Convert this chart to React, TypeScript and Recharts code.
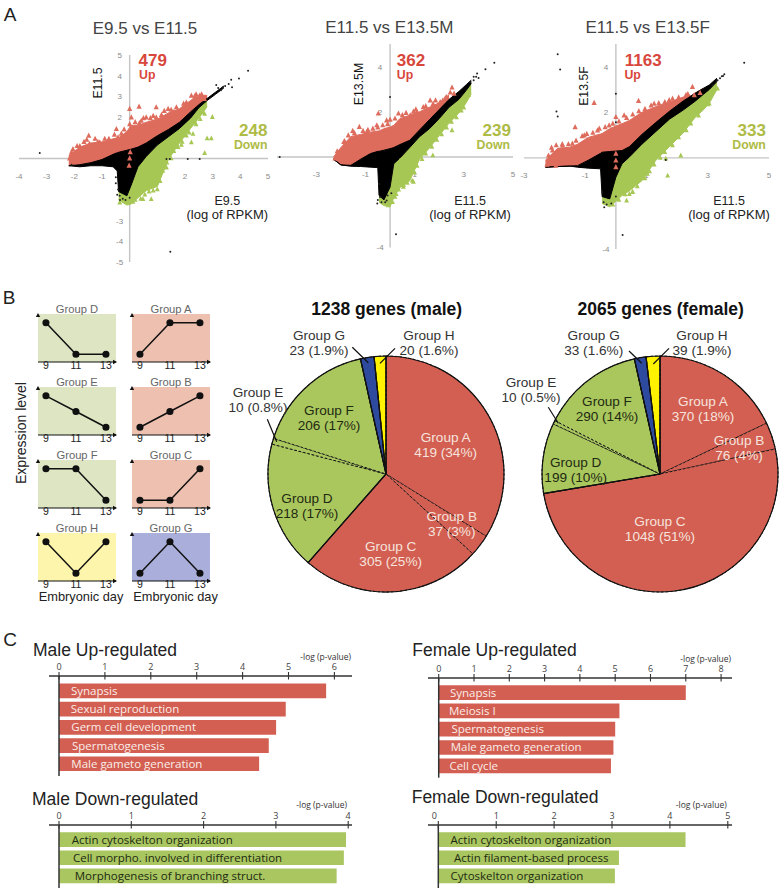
import {
  Area,
  Bar,
  BarChart,
  ComposedChart,
  LabelList,
  Line,
  LineChart,
  Pie,
  PieChart,
  Cell,
  ReferenceArea,
  ReferenceDot,
  ReferenceLine,
  Scatter,
  XAxis,
  YAxis
} from "recharts";

const SANS = '"Liberation Sans", Arial, sans-serif';
const OPEN = '"Open Sans", sans-serif';

// Panel A: envelope of the dense cloud, plus the loose points around it
const e95X = [-2.2, -1.8, -1.4, -1, -0.6, -0.45, -0.4, -0.1, 0.05, 0.3, 0.6, 1, 1.4, 1.8, 2.2, 2.5, 2.8, 3.1, 3.4];
const e95RedTop = [0.15, 0.55, 0.75, 0.8, 0.95, 1, 1, 1.3, 1.6, 1.6, 1.75, 1.9, 2.2, 2.4, 2.8, 3.05, 3.05, null, null];
const e95BlackTop = [-0.35, -0.3, -0.2, -0.05, 0.2, 0.28, 0.3, 0.4, 0.45, 0.55, 0.75, 1.1, 1.4, 1.75, 2.25, 2.6, 2.9, 3.2, 3.5];
const e95BlackLow = [null, -0.4, -0.35, -0.35, -0.4, -0.6, -1.6, -1.8, -1.3, -0.4, 0.1, 0.65, 1.05, 1.45, 1.95, 2.45, 2.8, 3.1, 3.4];
const e95GreenLow = [null, null, null, null, null, null, -2, -2.25, -2.2, -1.9, -1.55, -1.35, -0.05, 0.75, 1.45, 1.95, 2.5, null, null];
const e95BlackPts = [[-3.25, 0.26], [4.28, 4.24], [3.95, 3.87], [3.67, 3.8], [3.58, 3.6], [3.37, 3.44], [3.13, 3.55], [3.7, 3.44], [1.47, -4.5], [1.33, -0.03], [1.45, -0.03], [2.1, -0.03], [2.53, -0.03], [-0.36, -1.8], [-0.42, -1.5], [-2.1, -0.3], [-0.5, -1.2], [-0.45, -1.75], [-0.35, -2], [-0.25, -1.95], [-0.15, -2], [0, -1.9], [-0.5, -0.9], [3.3, 3.3], [3.45, 3.5], [3.2, 3.4]];
const e95RedPts = [[0, 2.39], [0.34, 2.5], [-1.48, 1.1], [-0.48, 1.42], [0.42, 1.82], [0.96, 1.98], [1.39, 2.39], [0.96, 2.47], [-1.8, 0.6], [-2.1, 0.3], [-2.17, 0], [-1.08, 0.77], [0, 1.66], [0.06, 1.98], [0.6, 1.98], [1.69, 2.47], [2.23, 3.03], [2.53, 3.03], [2.7, 2.87], [2.05, 2.7], [-1.8, 0.45], [-1.45, 0.7], [-0.84, 0.7], [-0.42, 1.02], [1.08, 1.74], [1.87, 2.2], [0, 0], [-0.02, -0.35], [0.02, 0.3], [-2.05, 0.45], [-1.9, 0.6], [-1.65, 0.8], [-1.55, 0.9], [-1.25, 0.95], [-1.15, 0.8], [-0.9, 0.95], [-0.75, 0.95], [-0.55, 1.15], [-0.3, 1.2], [-0.2, 1.4], [0.2, 1.75], [0.35, 1.7], [0.5, 1.95], [0.75, 1.95], [0.85, 2.05], [1.15, 2.1], [1.25, 2.3], [1.5, 2.35], [1.6, 2.25], [1.95, 2.65], [2.35, 3], [2.6, 3.1], [2.4, 3.1]];
const e95GreenPts = [[2.71, 2.15], [2.99, 2], [2.8, 0.97], [2.95, 0.97], [2.71, 0.26], [2.29, 1.18], [2.23, 0.77], [1.87, 0.65], [0.78, -1.97], [0.48, -1.97], [0.12, -2.1], [-0.36, -2.13], [-0.24, -1.89], [1.2, -0.35], [1.33, -0.44], [1.45, 0.45], [2.05, 1.58], [2.35, 1.74], [2.65, 2.23], [1.08, -1.08], [0.2, -2], [0.4, -1.95], [0.55, -1.75], [0.7, -1.6], [0.85, -1.55], [1, -1.5], [1.1, -1.1], [1.2, -0.6], [1.35, -0.2], [1.5, 0], [1.6, 0.35], [1.75, 0.55], [1.9, 0.8], [2.05, 1.1], [2.15, 1.25], [2.4, 1.65], [2.55, 1.9]];

const e13mX = [-2.3, -2, -1.6, -1.2, -0.8, -0.5, -0.45, -0.25, 0, 0.15, 0.4, 0.8, 1.2, 1.6, 2, 2.4, 2.8, 3.1, 3.3];
const e13mRedTop = [0, 0.42, 0.9, 1, 1.1, 1.15, 1.15, 1.25, 1.33, 1.4, 1.7, 1.85, 2, 2.2, 2.4, 2.75, null, null, null];
const e13mBlackTop = [-0.1, -0.35, -0.37, -0.1, 0.15, 0.25, 0.25, 0.3, 0.37, 0.42, 0.55, 0.74, 1.2, 1.65, 2.1, 2.55, 2.9, 3.2, 3.4];
const e13mBlackLow = [null, null, -0.41, -0.42, -0.45, -0.47, -1.7, -1.9, -1.33, -0.3, -0.05, 0.42, 0.9, 1.25, 1.7, 2.2, 2.55, 2.95, 3.25];
const e13mGreenLow = [null, null, null, null, null, null, -2, -2.15, -2.2, -1.8, -1.35, -1.05, -0.1, 0.4, 0.95, 1.5, 1.95, 2.4, 2.8];
const e13mBlackPts = [[4.24, 4.17], [3.88, 3.88], [3.54, 3.69], [3.4, 3.4], [-4.49, 0], [0, 2.65], [0.24, -3.42], [-0.52, -2.06], [-0.41, -1.77], [3.27, 3.32], [3.6, 3.5], [-0.14, -1.92], [-0.45, -1.2], [-0.5, -1.9], [-0.35, -2], [-0.2, -2], [-0.1, -1.7], [0.05, -1.6], [3.4, 3.55], [3.5, 3.55]];
const e13mRedPts = [[-0.48, 1.92], [-1.25, 1.33], [-1.52, 1.15], [-1.88, 0.66], [-2.24, -0.07], [-1.97, -0.15], [-2.04, 0], [-0.14, 1.62], [0.34, 1.92], [1.5, 1.92], [1.63, 2.5], [2.04, 2.43], [2.52, 3.07], [2.3, 2.65], [-0.54, 1.4], [0.82, 1.84], [-1.84, -0.07], [-0.95, 1.1], [1.09, 1.99], [0, 1.65], [-2.15, 0.25], [-1.85, 0.7], [-1.7, 0.95], [-1.45, 1.05], [-1.1, 1.15], [-0.9, 1.2], [-0.7, 1.25], [-0.5, 1.3], [-0.3, 1.4], [-0.1, 1.45], [0.2, 1.7], [0.5, 1.85], [0.65, 1.95], [0.95, 2], [1.05, 2.1], [1.35, 2.2], [1.45, 2.25], [1.75, 2.35], [1.85, 2.5], [2.15, 2.5], [2.25, 2.6], [2.45, 2.85], [2.6, 2.8]];
const e13mGreenPts = [[3.2, 2.73], [3, 2.18], [2.52, 1.18], [1.74, 0.07], [0.95, -1.1], [0.54, -1.33], [-0.07, -2.14], [0.41, -0.15], [1.63, 0.74], [2.31, 1.77], [1.84, 1.03], [0.2, -1.77], [0.1, -2], [0.25, -1.65], [0.35, -1.45], [0.55, -1.25], [0.7, -1.15], [0.9, -1.05], [1, -0.7], [1.1, -0.4], [1.3, -0.1], [1.45, 0.15], [1.7, 0.45], [1.9, 0.75], [2.1, 1], [2.3, 1.3], [2.5, 1.55], [2.7, 1.75], [2.9, 2.05]];

const e13fX = [-2.3, -1.9, -1.5, -1.25, -0.9, -0.5, -0.45, -0.2, 0, 0.2, 0.45, 0.85, 1.3, 1.75, 2.2, 2.6, 2.85, 3.05, 3.3];
const e13fRedTop = [-0.1, 0.42, 0.47, 0.6, 0.9, 1.05, 1.07, 1.28, 1.4, 1.5, 1.65, 2, 2.25, 2.45, 2.67, 2.75, 2.8, null, null];
const e13fBlackTop = [-0.41, -0.38, -0.36, -0.34, -0.1, 0.2, 0.25, 0.28, 0.3, 0.32, 0.5, 1.03, 1.55, 2.05, 2.5, 2.85, 3.05, 3.2, 3.5];
const e13fBlackLow = [null, null, null, -0.41, -0.45, -0.48, -1.7, -1.8, -0.85, -0.26, 0.05, 0.6, 1.15, 1.7, 2.1, 2.5, 2.78, 3, 3.35];
const e13fGreenLow = [null, null, null, null, null, null, -2, -2.15, -1.9, -1.65, -1.44, -1, -0.12, 0.5, 1.1, 1.8, 2.1, 2.4, 3];
const e13fBlackPts = [[-1.9, 4.55], [-1.82, 3.88], [-1.94, 2.04], [-1.9, 1.82], [4.19, 4.18], [3.46, 3.58], [3.54, 3.67], [0, 2.82], [0.22, -3.38], [0, 1.57], [-0.38, -2.17], [1.63, -0.09], [3.16, 3.19], [3.32, 3.41], [-0.45, -1.5], [-0.4, -1.95], [-0.3, -2.05], [-0.15, -2], [0, -1.7], [3.4, 3.5], [3.5, 3.6]];
const e13fRedPts = [[-0.71, 2.41], [0.74, 2.5], [2.5, 3.11], [-1.33, 1.35], [-0.54, 1.28], [-0.22, 1.42], [0.27, 1.86], [1.25, 2.38], [1.74, 2.53], [-2.07, 0.32], [-2.23, -0.26], [-1.74, 0.54], [-1.42, 0.62], [-1.03, 0.98], [0, 1.79], [0, -0.12], [0, -0.41], [0.98, 1.94], [2.29, 2.75], [2.56, 2.75], [-1.96, -0.34], [0, 0.18], [-2.2, 0.1], [-2.1, 0.45], [-1.95, 0.55], [-1.75, 0.6], [-1.55, 0.6], [-1.3, 0.75], [-1.1, 0.95], [-0.95, 1.05], [-0.75, 1.1], [-0.6, 1.2], [-0.35, 1.35], [-0.1, 1.5], [0.1, 1.6], [0.35, 1.75], [0.55, 1.9], [0.75, 2.05], [0.95, 2.15], [1.15, 2.3], [1.4, 2.4], [1.6, 2.45], [1.85, 2.6], [2.05, 2.65], [2.35, 2.8], [2.75, 2.85], [-2.25, -0.3], [-2.05, -0.1], [-1.85, 0.1]];
const e13fGreenPts = [[2.12, 0.1], [1.63, -0.04], [1.69, -0.78], [1.03, -0.7], [0.35, -1.88], [0.54, -1.51], [0, -1.81], [3.32, 3.04], [3.05, 2.38], [2.72, 2.23], [2.29, 1.64], [1.85, 1.06], [0.87, -0.56], [0.44, -1.59], [2.5, 1.94], [-0.1, -2.05], [0.1, -1.85], [0.3, -1.6], [0.55, -1.5], [0.7, -1.25], [0.95, -0.9], [1.1, -0.6], [1.25, -0.3], [1.45, 0], [1.6, 0.25], [1.85, 0.55], [2.05, 0.9], [2.3, 1.2], [2.45, 1.5], [2.7, 1.85], [3, 2.35]];

// Panel B: expression profiles
const days = [9, 11, 13];
const groupD = [1, 0, 0];
const groupE = [1, 0.5, 0];
const groupF = [1, 1, 0];
const groupH = [1, 0, 1];
const groupA = [0, 1, 1];
const groupB = [0, 0.5, 1];
const groupC = [0, 0, 1];
const groupG = [0, 1, 0];

// Panel B: pies, clockwise from the top
const groupNames = ["A", "B", "C", "D", "E", "F", "G", "H"];
const maleCounts = [419, 37, 305, 218, 10, 206, 23, 20];
const femaleCounts = [370, 76, 1048, 199, 10, 290, 33, 39];
const sliceColors = ["#d25f52", "#d25f52", "#d25f52", "#aac75e", "#aac75e", "#aac75e", "#2d4a9e", "#fff200"];

// Panel C
const maleUpTerms = ["Synapsis", "Sexual reproduction", "Germ cell development", "Spermatogenesis", "Male gameto generation"];
const maleUpValues = [5.82, 4.94, 4.73, 4.57, 4.36];
const maleDownTerms = ["Actin cytoskelton organization", "Cell morpho. involved in differentiation", "Morphogenesis of branching struct."];
const maleDownValues = [3.97, 3.94, 3.84];
const femaleUpTerms = ["Synapsis", "Meiosis I", "Spermatogenesis", "Male gameto generation", "Cell cycle"];
const femaleUpValues = [7, 5.12, 5, 4.95, 4.88];
const femaleDownTerms = ["Actin cytoskelton organization", "Actin filament-based process", "Cytoskelton organization"];
const femaleDownValues = [4.27, 3.12, 3.05];

function T({ x, y, size, color = "#333", bold, rot, left, font = SANS, children }: any) {
  return (
    <div
      style={{
        position: "absolute",
        left: x,
        top: y,
        transform: `translate(${left ? "0" : "-50%"}, -50%)${rot ? ` rotate(${rot}deg)` : ""}`,
        fontFamily: font,
        fontSize: size,
        fontWeight: bold ? 700 : 400,
        color,
        whiteSpace: "nowrap",
        lineHeight: 1
      }}
    >
      {children}
    </div>
  );
}

const pts = (list: number[][]) => list.map(([x, y]) => ({ x, y }));

const RedMark = (p: any) => <path d={`M${p.cx},${p.cy - 3.2}L${p.cx + 2.6},${p.cy + 2}L${p.cx - 2.6},${p.cy + 2}Z`} fill="#de6c5d" />;
const GreenMark = (p: any) => <path d={`M${p.cx},${p.cy - 3}L${p.cx + 2.4},${p.cy + 1.8}L${p.cx - 2.4},${p.cy + 1.8}Z`} fill="#a7c755" />;
const BlackMark = (p: any) => <circle cx={p.cx} cy={p.cy} r={1} fill="#222" />;

function CloudPanel({ left, top, width, height, xDomain, yDomain, xs, redTop, blackTop, blackLow, greenLow, blackPts, redPts, greenPts, xTicks, yTicks }: any) {
  const pad = 16;
  const rows = xs.map((x: number, i: number) => ({
    x,
    red: redTop[i] === null ? null : [blackTop[i], redTop[i]],
    black: [blackLow[i] ?? blackTop[i], blackTop[i]],
    green: greenLow[i] === null ? null : [greenLow[i], blackLow[i]]
  }));
  const box = { width: width + pad * 2, height: height + pad * 2 };
  const margin = { top: pad, right: pad, bottom: pad, left: pad };
  return (
    <div style={{ position: "absolute", left: left - pad, top: top - pad }}>
      {/* axes sit in their own chart underneath so the cloud covers them */}
      <div style={{ position: "absolute", left: 0, top: 0 }}>
        <ComposedChart {...box} data={rows} margin={margin} style={{ overflow: "visible" }}>
          <XAxis type="number" dataKey="x" domain={xDomain} hide allowDataOverflow />
          <YAxis type="number" domain={yDomain} hide allowDataOverflow />
          <ReferenceLine x={0} stroke="#c4c4c4" strokeWidth={1.4} />
          <ReferenceLine y={0} stroke="#c4c4c4" strokeWidth={1.4} />
          {xTicks.map((t: number) => (
            <ReferenceDot
              key={`x${t}`}
              x={t}
              y={0}
              ifOverflow="visible"
              shape={(p: any) => (
                <text x={p.cx} y={p.cy + 20} textAnchor="middle" fontSize={8} fontFamily={SANS} fill="#8a8a8a">
                  {t}
                </text>
              )}
            />
          ))}
          {yTicks.map((t: number) => (
            <ReferenceDot
              key={`y${t}`}
              x={0}
              y={t}
              ifOverflow="visible"
              shape={(p: any) => (
                <text x={p.cx - 10} y={p.cy + 3} textAnchor="middle" fontSize={8} fontFamily={SANS} fill="#8a8a8a">
                  {t}
                </text>
              )}
            />
          ))}
        </ComposedChart>
      </div>
      <div style={{ position: "absolute", left: 0, top: 0 }}>
        <ComposedChart {...box} data={rows} margin={margin} style={{ overflow: "visible" }}>
          <XAxis type="number" dataKey="x" domain={xDomain} hide allowDataOverflow />
          <YAxis type="number" dataKey="y" domain={yDomain} hide allowDataOverflow />
          <Area dataKey="green" type="linear" stroke="#a7c755" strokeWidth={1} fill="#a7c755" fillOpacity={1} dot={false} activeDot={false} isAnimationActive={false} />
          <Scatter data={pts(greenPts)} shape={GreenMark} isAnimationActive={false} />
          <Area dataKey="red" type="linear" stroke="#de6c5d" strokeWidth={1} fill="#de6c5d" fillOpacity={1} dot={false} activeDot={false} isAnimationActive={false} />
          <Area dataKey="black" type="linear" stroke="#000" strokeWidth={1} fill="#000" fillOpacity={1} dot={false} activeDot={false} isAnimationActive={false} />
          <Scatter data={pts(redPts)} shape={RedMark} isAnimationActive={false} />
          <Scatter data={pts(blackPts)} shape={BlackMark} isAnimationActive={false} />
        </ComposedChart>
      </div>
    </div>
  );
}

function Profile({ left, top, name, levels, bg }: any) {
  const rows = days.map((day, i) => ({ day, level: levels[i] }));
  const xDom = [8.47, 13.67];
  const yDom = [-0.246, 1.28];
  return (
    <div style={{ position: "absolute", left: left - 4, top: top - 6 }}>
      <LineChart width={92} height={68} data={rows} margin={{ top: 6, right: 10, bottom: 0, left: 4 }} style={{ overflow: "visible" }}>
        <XAxis
          type="number"
          dataKey="day"
          domain={xDom}
          ticks={days}
          height={14}
          tickLine={false}
          tickSize={0}
          tickMargin={0}
          interval={0}
          axisLine={{ stroke: "#111", strokeWidth: 1.2 }}
          tick={{ fontSize: 10.5, fontFamily: SANS, fill: "#222" }}
        />
        <YAxis type="number" domain={yDom} width={0} tick={false} tickLine={false} axisLine={{ stroke: "#111", strokeWidth: 1.2 }} />
        <ReferenceArea x1={xDom[0]} x2={xDom[1]} y1={yDom[0]} y2={yDom[1]} fill={bg} fillOpacity={1} stroke="none" />
        <ReferenceDot
          x={xDom[1]}
          y={yDom[0]}
          ifOverflow="visible"
          shape={(p: any) => <path d={`M${p.cx + 1},${p.cy}l-4,-2.2v4.4Z`} fill="#111" />}
        />
        <ReferenceDot
          x={xDom[0]}
          y={yDom[1]}
          ifOverflow="visible"
          shape={(p: any) => <path d={`M${p.cx},${p.cy - 1}l-2.2,4h4.4Z`} fill="#111" />}
        />
        <Line
          dataKey="level"
          type="linear"
          stroke="#111"
          strokeWidth={1.5}
          dot={{ r: 2.8, fill: "#111", stroke: "#111" }}
          activeDot={false}
          isAnimationActive={false}
        />
      </LineChart>
      <T x={43} y={2} size={11.2} color="#666">
        Group {name}
      </T>
    </div>
  );
}

function GenePie({ cx, counts }: any) {
  const r = 118;
  const pad = 4;
  const slices = groupNames.map((name, i) => ({ name, value: counts[i] }));
  // the solid outline groups A-C and D-F, so only the inner borders stay dashed
  const sum = (a: number, b: number) => counts.slice(a, b).reduce((s: number, v: number) => s + v, 0);
  const outline = [
    { name: "up", value: sum(0, 3) },
    { name: "down", value: sum(3, 6) },
    { name: "G", value: counts[6] },
    { name: "H", value: counts[7] }
  ];
  return (
    <div style={{ position: "absolute", left: cx - r - pad, top: 474 - r - pad }}>
      <PieChart width={(r + pad) * 2} height={(r + pad) * 2} margin={{ top: 0, right: 0, bottom: 0, left: 0 }}>
        <Pie
          data={slices}
          dataKey="value"
          nameKey="name"
          startAngle={90}
          endAngle={-270}
          outerRadius={r}
          innerRadius={0}
          paddingAngle={0}
          stroke="#111"
          strokeWidth={1}
          strokeDasharray="2.5 2"
          isAnimationActive={false}
        >
          {slices.map((s, i) => (
            <Cell key={s.name} fill={sliceColors[i]} />
          ))}
        </Pie>
        <Pie
          data={outline}
          dataKey="value"
          nameKey="name"
          startAngle={90}
          endAngle={-270}
          outerRadius={r}
          innerRadius={0}
          paddingAngle={0}
          fill="none"
          stroke="#111"
          strokeWidth={1.2}
          isAnimationActive={false}
        />
      </PieChart>
    </div>
  );
}

function TermBars({ left, right, zero, unit, axisY, bottom, firstBar, step, barH, ticks, terms, values, color, textColor, indents, zeroDx = 0 }: any) {
  const rows = terms.map((term: string, i: number) => ({ term, value: values[i] }));
  const head = 22;
  const plotH = bottom - axisY;
  const padTop = firstBar - step / 2 - axisY;
  const padBottom = plotH - padTop - step * terms.length;
  return (
    <div style={{ position: "absolute", left, top: axisY - head }}>
      <BarChart
        layout="vertical"
        width={right - left}
        height={head + plotH}
        data={rows}
        margin={{ top: 0, right: 0, bottom: 0, left: 0 }}
        style={{ overflow: "visible" }}
      >
        <XAxis
          type="number"
          orientation="top"
          height={head}
          domain={[(left - zero) / unit, (right - zero) / unit]}
          ticks={ticks}
          interval={0}
          tickSize={0}
          tickMargin={0}
          axisLine={{ stroke: "#333", strokeWidth: 1.4 }}
          tick={(p: any) => (
            <g>
              <line x1={p.x} x2={p.x} y1={head - 4} y2={head + 3.5} stroke="#333" strokeWidth={1.1} />
              <text
                x={p.x + (p.payload.value === 0 ? zeroDx : 0)}
                y={head - 6}
                textAnchor="middle"
                fontSize={9}
                fontFamily={OPEN}
                fill="#444"
              >
                {p.payload.value}
              </text>
            </g>
          )}
        />
        <YAxis type="category" dataKey="term" hide padding={{ top: padTop, bottom: padBottom }} />
        <Bar dataKey="value" fill={color} barSize={barH} isAnimationActive={false}>
          <LabelList
            dataKey="term"
            content={(p: any) => (
              <text
                x={p.x + indents[p.index]}
                y={p.y + p.height / 2 + 4}
                fill={textColor}
                fontSize={11.5}
                fontFamily={OPEN}
              >
                {p.value}
              </text>
            )}
          />
        </Bar>
        <ReferenceLine x={0} stroke="#333" strokeWidth={1.5} />
      </BarChart>
    </div>
  );
}

const leaders = [
  [352.3, 347.3, 368.3, 362.7],
  [395, 348.3, 380, 363.3],
  [267.3, 419.3, 276.7, 441.7],
  [629, 351, 641.7, 363.3],
  [669, 348.3, 653.3, 364],
  [548.3, 407.3, 558.3, 423.3]
];

const RED_TXT = "#d8473c";
const GRN_TXT = "#aebb45";
const PIE_LIGHT = "#f6e3dd";
const PIE_DARK = "#1f2a12";

function Two({ x, y, a, b, color }: any) {
  return (
    <>
      <T x={x} y={y} size={13.6} color={color}>
        {a}
      </T>
      <T x={x} y={y + 14.7} size={13.6} color={color}>
        {b}
      </T>
    </>
  );
}

export default function App() {
  return (
    <div style={{ position: "absolute", left: 0, top: 0, width: 781, height: 891, background: "#fff", overflow: "hidden" }}>
      <T x={10} y={14} size={19} color="#222">A</T>
      <T x={9} y={297} size={19} color="#222">B</T>
      <T x={10} y={639} size={19} color="#222">C</T>

      <T x={145} y={27.5} size={17} color="#444">E9.5 vs E11.5</T>
      <T x={389.3} y={26.7} size={17} color="#444">E11.5 vs E13.5M</T>
      <T x={647.7} y={26.7} size={17} color="#444">E11.5 vs E13.5F</T>

      <CloudPanel
        left={19.3} top={55} width={249} height={207} xDomain={[-4, 5]} yDomain={[-5, 5]}
        xs={e95X} redTop={e95RedTop} blackTop={e95BlackTop} blackLow={e95BlackLow} greenLow={e95GreenLow}
        blackPts={e95BlackPts} redPts={e95RedPts} greenPts={e95GreenPts}
        xTicks={[-4, -3, -2, -1, 1, 2, 3, 4, 5]} yTicks={[5, 4, 3, 2, -3, -4, -5]}
      />
      <CloudPanel
        left={277} top={43.6} width={236} height={203.4} xDomain={[-4.6, 5]} yDomain={[-4, 5]}
        xs={e13mX} redTop={e13mRedTop} blackTop={e13mBlackTop} blackLow={e13mBlackLow} greenLow={e13mGreenLow}
        blackPts={e13mBlackPts} redPts={e13mRedPts} greenPts={e13mGreenPts}
        xTicks={[-3, -1, 1, 3, 5]} yTicks={[4, 2, -4]}
      />
      <CloudPanel
        left={524} top={43.5} width={245} height={205} xDomain={[-3, 5]} yDomain={[-4, 5]}
        xs={e13fX} redTop={e13fRedTop} blackTop={e13fBlackTop} blackLow={e13fBlackLow} greenLow={e13fGreenLow}
        blackPts={e13fBlackPts} redPts={e13fRedPts} greenPts={e13fGreenPts}
        xTicks={[-3, -1, 1, 3, 5]} yTicks={[4, 2, -4]}
      />

      <T x={152.7} y={60} size={17} bold color={RED_TXT}>479</T>
      <T x={147.3} y={75} size={12.3} bold color={RED_TXT}>Up</T>
      <T x={253.3} y={129.5} size={17} bold color={GRN_TXT}>248</T>
      <T x={250.7} y={145} size={12.3} bold color={GRN_TXT}>Down</T>
      <T x={98.3} y={83.3} size={12.3} rot={-90} color="#111">E11.5</T>
      <T x={227.3} y={200.7} size={12.5} color="#222">E9.5</T>
      <T x={227.3} y={214.3} size={13} color="#222">(log of RPKM)</T>

      <T x={411} y={60} size={17} bold color={RED_TXT}>362</T>
      <T x={405} y={75} size={12.3} bold color={RED_TXT}>Up</T>
      <T x={496.7} y={129.5} size={17} bold color={GRN_TXT}>239</T>
      <T x={493.3} y={145} size={12.3} bold color={GRN_TXT}>Down</T>
      <T x={359.3} y={84} size={12.3} rot={-90} color="#111">E13.5M</T>
      <T x={470} y={200.7} size={12.5} color="#222">E11.5</T>
      <T x={470} y={214} size={13} color="#222">(log of RPKM)</T>

      <T x={643.3} y={60} size={17} bold color={RED_TXT}>1163</T>
      <T x={632.7} y={75} size={12.3} bold color={RED_TXT}>Up</T>
      <T x={751.7} y={129.5} size={17} bold color={GRN_TXT}>333</T>
      <T x={749} y={145} size={12.3} bold color={GRN_TXT}>Down</T>
      <T x={584} y={86} size={12.3} rot={-90} color="#111">E13.5F</T>
      <T x={729} y={200.7} size={12.5} color="#222">E11.5</T>
      <T x={729} y={214} size={13} color="#222">(log of RPKM)</T>

      <T x={21} y={433} size={14} rot={-90} color="#222">Expression level</T>
      <Profile left={38} top={314} name="D" levels={groupD} bg="#dde5c3" />
      <Profile left={38} top={387} name="E" levels={groupE} bg="#dde5c3" />
      <Profile left={38} top={459.5} name="F" levels={groupF} bg="#dde5c3" />
      <Profile left={38} top={532.5} name="H" levels={groupH} bg="#fdf5ab" />
      <Profile left={132} top={314} name="A" levels={groupA} bg="#eec0b0" />
      <Profile left={132} top={387} name="B" levels={groupB} bg="#eec0b0" />
      <Profile left={132} top={459.5} name="C" levels={groupC} bg="#eec0b0" />
      <Profile left={132} top={532.5} name="G" levels={groupG} bg="#aaaedb" />
      <T x={81} y={597} size={12.8} color="#222">Embryonic day</T>
      <T x={175.5} y={597} size={12.8} color="#222">Embryonic day</T>

      <T x={386.7} y={310} size={17.5} bold color="#111">1238 genes (male)</T>
      <T x={660.7} y={310} size={17.5} bold color="#111">2065 genes (female)</T>
      <GenePie cx={386} counts={maleCounts} />
      <GenePie cx={660} counts={femaleCounts} />

      <svg width={781} height={891} style={{ position: "absolute", left: 0, top: 0, pointerEvents: "none" }}>
        {leaders.map((l, i) => (
          <line key={i} x1={l[0]} y1={l[1]} x2={l[2]} y2={l[3]} stroke="#111" strokeWidth={1.2} />
        ))}
      </svg>

      <Two x={445.7} y={438} a="Group A" b="419 (34%)" color={PIE_LIGHT} />
      <Two x={451.7} y={517} a="Group B" b="37 (3%)" color={PIE_LIGHT} />
      <Two x={390.7} y={547} a="Group C" b="305 (25%)" color={PIE_LIGHT} />
      <Two x={307} y={499} a="Group D" b="218 (17%)" color={PIE_DARK} />
      <Two x={329} y={411} a="Group F" b="206 (17%)" color={PIE_DARK} />
      <Two x={258} y={393} a="Group E" b="10 (0.8%)" color="#333" />
      <Two x={319} y={336} a="Group G" b="23 (1.9%)" color="#333" />
      <Two x={429} y={336} a="Group H" b="20 (1.6%)" color="#333" />

      <Two x={703} y={402} a="Group A" b="370 (18%)" color={PIE_LIGHT} />
      <Two x={739} y={441} a="Group B" b="76 (4%)" color={PIE_LIGHT} />
      <Two x={660} y={522} a="Group C" b="1048 (51%)" color={PIE_LIGHT} />
      <Two x={575.7} y={463} a="Group D" b="199 (10%)" color={PIE_DARK} />
      <Two x={607} y={402} a="Group F" b="290 (14%)" color={PIE_DARK} />
      <Two x={531} y={383} a="Group E" b="10 (0.5%)" color="#333" />
      <Two x={593.7} y={336} a="Group G" b="33 (1.6%)" color="#333" />
      <Two x={702} y={336} a="Group H" b="39 (1.9%)" color="#333" />

      <T x={33} y={651} size={17.5} left color="#222">Male Up-regulated</T>
      <T x={32} y={800} size={17.5} left color="#222">Male Down-regulated</T>
      <T x={412.3} y={651} size={17.5} left color="#222">Female Up-regulated</T>
      <T x={411.7} y={797.7} size={17.5} left color="#222">Female Down-regulated</T>
      <T x={325.7} y={656.7} size={8.5} font={OPEN} color="#333">-log (p-value)</T>
      <T x={321.7} y={805} size={8.5} font={OPEN} color="#333">-log (p-value)</T>
      <T x={705.7} y={659} size={8.5} font={OPEN} color="#333">-log (p-value)</T>
      <T x={701.3} y={805.3} size={8.5} font={OPEN} color="#333">-log (p-value)</T>

      <TermBars
        left={49} right={352} zero={59} unit={45.9} axisY={676} bottom={776} firstBar={690.7} step={18.2} barH={14.7}
        ticks={[0, 1, 2, 3, 4, 5, 6]} terms={maleUpTerms} values={maleUpValues}
        color="#d25f52" textColor="#fbeee9" indents={[12, 11.7, 12.3, 13, 12.3]}
      />
      <TermBars
        left={49} right={352} zero={59} unit={72.3} axisY={825} bottom={888} firstBar={839.3} step={18.2} barH={14.7}
        ticks={[0, 1, 2, 3, 4]} terms={maleDownTerms} values={maleDownValues}
        color="#a9c661" textColor="#1d2a10" indents={[12.7, 14, 15.7]}
      />
      <TermBars
        left={428} right={732} zero={438.7} unit={35.3} axisY={678.3} bottom={778} firstBar={692.7} step={18.3} barH={14.7}
        ticks={[0, 1, 2, 3, 4, 5, 6, 7, 8]} terms={femaleUpTerms} values={femaleUpValues}
        color="#d25f52" textColor="#fbeee9" indents={[11.3, 10.3, 12.7, 12, 10.7]}
      />
      <TermBars
        left={428} right={732} zero={438.3} unit={57.9} axisY={824.7} bottom={888} firstBar={839} step={18.2} barH={14.7}
        ticks={[0, 1, 2, 3, 4, 5]} terms={femaleDownTerms} values={femaleDownValues} zeroDx={-4}
        color="#a9c661" textColor="#1d2a10" indents={[12.3, 15.6, 12.3]}
      />
    </div>
  );
}
